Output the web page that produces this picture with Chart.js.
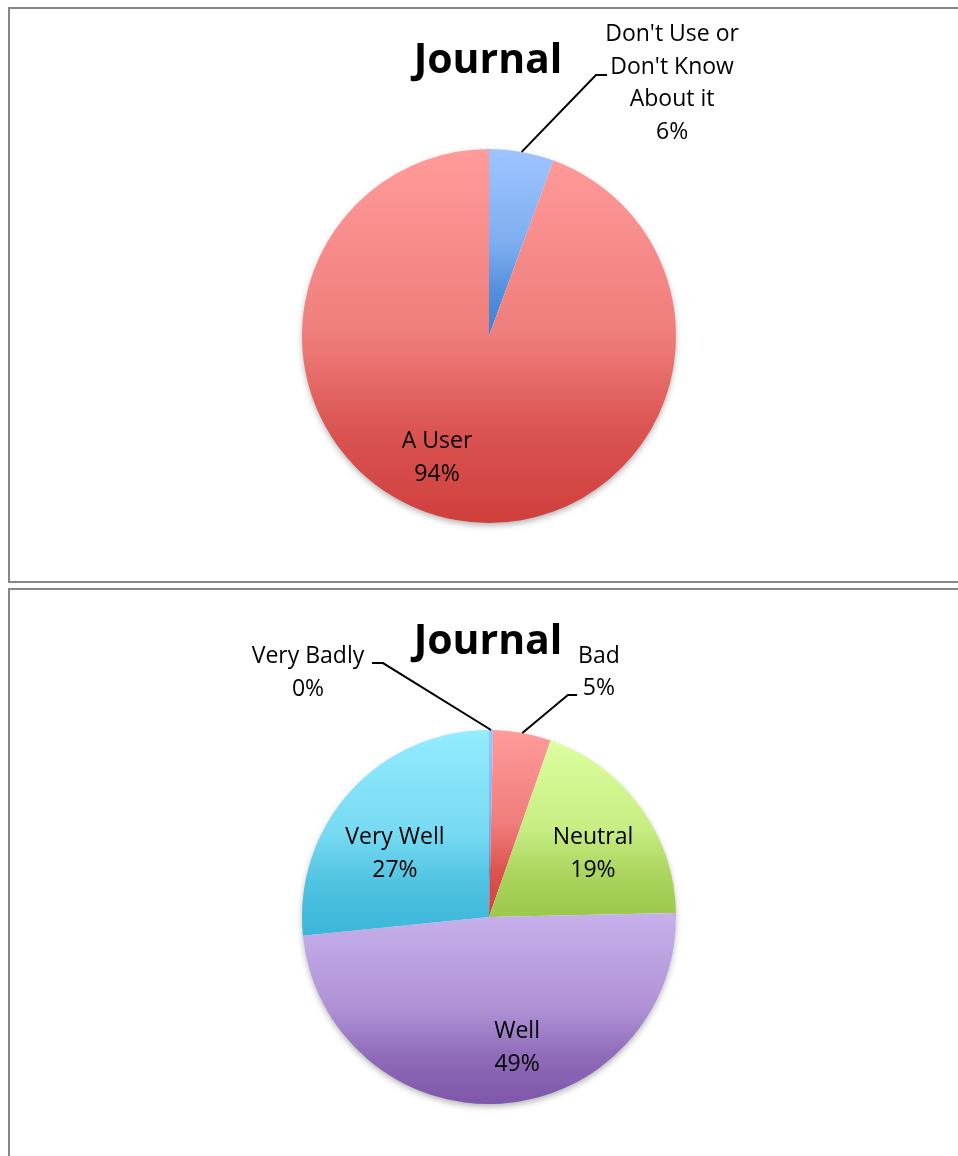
<!DOCTYPE html>
<html>
<head>
<meta charset="utf-8">
<title>Journal</title>
<script src="https://cdn.jsdelivr.net/npm/chart.js@4/dist/chart.umd.min.js"></script>
<style>
    html, body { margin: 0; padding: 0; background: #fff; overflow: hidden; width: 958px; height: 1156px; }
    .panel { position: absolute; left: 8px; width: 970px; border: 2px solid #878787; background: #fff; }
    #p1 { top: 7px; height: 572px; }
    #p2 { top: 588px; height: 600px; }
    .panel canvas { display: block; }
</style>
</head>
<body>
<div class="panel" id="p1"><canvas id="usageChart" width="950" height="572"></canvas></div>
<div class="panel" id="p2"><canvas id="ratingChart" width="950" height="570"></canvas></div>

<script>
// ===== Data =====
const chartTitle = 'Journal';

const usageLabels = [["Don't Use or", "Don't Know", 'About it'], ['A User']];
const usageValues = [5.6, 94.4];

const ratingLabels = [['Very Badly'], ['Bad'], ['Neutral'], ['Well'], ['Very Well']];
const ratingValues = [0.35, 5.0, 19.3, 48.75, 26.6];

// ===== Styles (gradient top / bottom per slice) =====
const usageTops = ['#9ec4ff', '#ff9b9a'];
const usageBottoms = ['#3f80d3', '#cf3f3c'];

const ratingTops = ['#9ec4ff', '#ff9b9a', '#dcff9e', '#c7b0eb', '#94ecff'];
const ratingBottoms = ['#3f80d3', '#d0403d', '#9cc84b', '#7e56aa', '#3bb6d8'];

// label placement in units of the pie radius, from the pie centre
const usageLayout = [
    { dx: 0.979, dy: -1.350, leader: [[0.572, -1.396], [0.631, -1.396]] },
    { dx: -0.278, dy: 0.652 }
];
const ratingLayout = [
    { dx: -0.968, dy: -1.305, leader: [[-0.567, -1.358], [-0.626, -1.358]] },
    { dx: 0.588, dy: -1.307, leader: [[0.422, -1.187], [0.471, -1.187]] },
    { dx: 0.556, dy: -0.337 },
    { dx: 0.150, dy: 0.701 },
    { dx: -0.503, dy: -0.337 }
];

const LABEL_FONT = '23px "Open Sans", "DejaVu Sans", sans-serif';
const TITLE_FONT = 'bold 41px "Open Sans", "DejaVu Sans", sans-serif';
const LINE_HEIGHT = 32.6;

// ===== Helpers =====
function hexToRgb(hex) {
    const n = parseInt(hex.slice(1), 16);
    return [(n >> 16) & 255, (n >> 8) & 255, n & 255];
}

function mix(c1, c2, t) {
    const a = hexToRgb(c1), b = hexToRgb(c2);
    const c = a.map((v, k) => Math.round(v + (b[k] - v) * t));
    return `rgb(${c[0]}, ${c[1]}, ${c[2]})`;
}

// Excel-like shade: stays light for a while, darkens towards the bottom
const gradientStops = [[0, 0], [0.5, 0.33], [0.75, 0.77], [1, 1]];

function sliceGradient(values, tops, bottoms) {
    return function (context) {
        const chart = context.chart;
        const area = chart.chartArea;
        const i = context.dataIndex;
        if (!area || i === undefined) return tops[0];

        const cx = (area.left + area.right) / 2;
        const cy = (area.top + area.bottom) / 2;
        const r = Math.min(area.width, area.height) / 2;
        const total = values.reduce((a, b) => a + b, 0);
        let before = 0;
        for (let k = 0; k < i; k++) before += values[k];
        const a0 = before / total * 2 * Math.PI;
        const a1 = (before + values[i]) / total * 2 * Math.PI;

        // vertical bounding box of the slice
        const ys = [cy, cy - r * Math.cos(a0), cy - r * Math.cos(a1)];
        let yMin = Math.min(...ys);
        let yMax = Math.max(...ys);
        if (a0 <= 0) yMin = cy - r;
        if (a0 <= Math.PI && a1 >= Math.PI) yMax = cy + r;

        const g = chart.ctx.createLinearGradient(0, yMin, 0, yMax);
        gradientStops.forEach(([pos, t]) => g.addColorStop(pos, mix(tops[i], bottoms[i], t)));
        return g;
    };
}

// Soft shadow below the pie + title + data labels with leader lines
function pieDecorations(layout) {
    return {
        id: 'pieDecorations',
        beforeDatasetsDraw(chart) {
            const arc = chart.getDatasetMeta(0).data[0];
            if (!arc) return;
            const ctx = chart.ctx;
            ctx.save();
            ctx.shadowColor = 'rgba(0, 0, 0, 0.35)';
            ctx.shadowBlur = 7;
            ctx.shadowOffsetY = 3;
            ctx.beginPath();
            ctx.arc(arc.x, arc.y, arc.outerRadius - 1, 0, Math.PI * 2);
            ctx.fillStyle = '#fff';
            ctx.fill();
            ctx.restore();
        },
        afterDatasetsDraw(chart) {
            const ctx = chart.ctx;
            const meta = chart.getDatasetMeta(0);
            const values = chart.data.datasets[0].data;
            const total = values.reduce((a, b) => a + b, 0);

            ctx.save();
            // title
            ctx.fillStyle = '#000';
            ctx.font = TITLE_FONT;
            ctx.textAlign = 'center';
            ctx.textBaseline = 'alphabetic';
            ctx.fillText(chartTitle, 478, 64);

            meta.data.forEach((arc, i) => {
                const cx = arc.x, cy = arc.y, r = arc.outerRadius;
                const place = layout[i];
                const lines = [...chart.data.labels[i], Math.round(values[i] / total * 100) + '%'];

                if (place.leader) {
                    const mid = (arc.startAngle + arc.endAngle) / 2;
                    ctx.beginPath();
                    ctx.moveTo(cx + r * Math.cos(mid), cy + r * Math.sin(mid));
                    place.leader.forEach(([lx, ly]) => ctx.lineTo(cx + lx * r, cy + ly * r));
                    ctx.strokeStyle = '#000';
                    ctx.lineWidth = 2;
                    ctx.stroke();
                }

                ctx.font = LABEL_FONT;
                ctx.textBaseline = 'middle';
                const x = cx + place.dx * r;
                const y0 = cy + place.dy * r - (lines.length - 1) * LINE_HEIGHT / 2;
                lines.forEach((t, k) => ctx.fillText(t, x, y0 + k * LINE_HEIGHT));
            });
            ctx.restore();
        }
    };
}

function createPie(canvasId, labels, values, tops, bottoms, layout) {
    const canvas = document.getElementById(canvasId);
    const padBottom = canvas.height - 140 - 374;
    return new Chart(canvas, {
        type: 'pie',
        data: {
            labels: labels,
            datasets: [{
                data: values,
                backgroundColor: sliceGradient(values, tops, bottoms),
                borderWidth: 0,
                hoverOffset: 0,
                offset: 0
            }]
        },
        options: {
            responsive: false,
            animation: false,
            events: [],
            layout: { padding: { left: 292, top: 140, right: canvas.width - 292 - 374, bottom: padBottom } },
            plugins: {
                legend: { display: false },
                tooltip: { enabled: false },
                title: { display: false }
            }
        },
        plugins: [pieDecorations(layout)]
    });
}

createPie('usageChart', usageLabels, usageValues, usageTops, usageBottoms, usageLayout);
createPie('ratingChart', ratingLabels, ratingValues, ratingTops, ratingBottoms, ratingLayout);
</script>
</body>
</html>
